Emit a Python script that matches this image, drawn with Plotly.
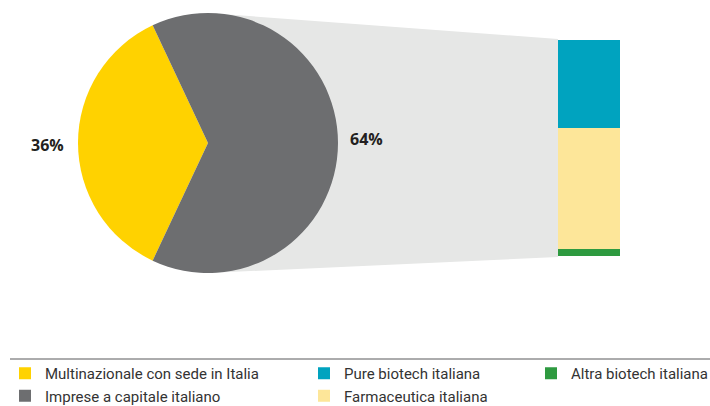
import plotly.graph_objects as go

W, H = 710, 406

# ---- data ----
pie_labels = ["Multinazionale con sede in Italia", "Imprese a capitale italiano"]
pie_values = [36, 64]
pie_colors = ["#ffd200", "#6d6e70"]

bar_labels = ["Altra biotech italiana", "Farmaceutica italiana", "Pure biotech italiana"]
bar_values = [2, 36, 26]
bar_colors = ["#2e9a40", "#fde699", "#00a3bf"]
bar_legend = ["legend3", "legend2", "legend2"]
bar_rank = [1, 2, 1]


def px_x(x):
    return x / W


def px_y(y):
    return 1 - y / H


fig = go.Figure()

# pie: first (yellow) slice centred on 9 o'clock
fig.add_trace(go.Pie(
    labels=pie_labels, values=pie_values, sort=False,
    direction="counterclockwise",
    rotation=-(90 + pie_values[0] / sum(pie_values) * 360 / 2),
    marker=dict(colors=pie_colors, line=dict(width=0)),
    textinfo="none", hoverinfo="label+percent",
    domain=dict(x=[px_x(78), px_x(338)], y=[px_y(273), px_y(13)]),
    legend="legend", showlegend=True,
))

# stacked bar
for lab, val, col, lg, rk in zip(bar_labels, bar_values, bar_colors, bar_legend, bar_rank):
    fig.add_trace(go.Bar(
        x=[0.5], y=[val], name=lab, marker=dict(color=col, line=dict(width=0)),
        width=1, legend=lg, legendrank=rk, hoverinfo="name+y",
    ))

lab_font = dict(family="Open Sans, Roboto, sans-serif", size=16, color="#231f20")

# bar labels
cum = 0
for val in bar_values:
    fig.add_annotation(
        x=1.08, y=cum + val / 2, xref="x", yref="y", text=f"<b>{val}%</b>",
        showarrow=False, xanchor="left", yanchor="middle", font=lab_font,
    )
    cum += val

# pie labels
fig.add_annotation(x=px_x(47), y=px_y(145), xref="paper", yref="paper",
                   xanchor="center", yanchor="middle",
                   text=f"<b>{pie_values[0]}%</b>", showarrow=False, font=lab_font)
fig.add_annotation(x=px_x(366), y=px_y(139), xref="paper", yref="paper",
                   xanchor="center", yanchor="middle",
                   text=f"<b>{pie_values[1]}%</b>", showarrow=False, font=lab_font)

# connector polygon
x0, x1 = px_x(208), px_x(558)
path = f"M {x0},{px_y(13)} L {x1},{px_y(39)} L {x1},{px_y(257)} L {x0},{px_y(273)} Z"
fig.add_shape(type="path", path=path, xref="paper", yref="paper",
              fillcolor="#e6e7e6", line=dict(width=0), layer="below")

# legend separator line
fig.add_shape(type="line", x0=px_x(10), x1=1, y0=px_y(359), y1=px_y(359),
              xref="paper", yref="paper", line=dict(color="#58595b", width=1))

leg_font = dict(family="Roboto, sans-serif", size=15, color="#333333")
leg_common = dict(orientation="v", xanchor="left", yanchor="top", font=leg_font,
                  bgcolor="rgba(0,0,0,0)", tracegroupgap=0, itemclick=False,
                  itemdoubleclick=False, traceorder="normal")

fig.update_layout(
    width=W, height=H,
    margin=dict(l=0, r=0, t=0, b=0, autoexpand=False),
    paper_bgcolor="white", plot_bgcolor="rgba(0,0,0,0)",
    barmode="stack", bargap=0,
    xaxis=dict(domain=[px_x(558), px_x(620)], range=[0, 1], visible=False, fixedrange=True),
    yaxis=dict(domain=[px_y(256), px_y(40)], range=[0, sum(bar_values)], visible=False, fixedrange=True),
    legend=dict(x=px_x(5), y=px_y(357), **leg_common),
    legend2=dict(x=px_x(304), y=px_y(357), **leg_common),
    legend3=dict(x=px_x(531), y=px_y(357), **leg_common),
)

fig.write_html("out.html", config={"displayModeBar": False},
               post_script="document.body.style.margin='0';")
